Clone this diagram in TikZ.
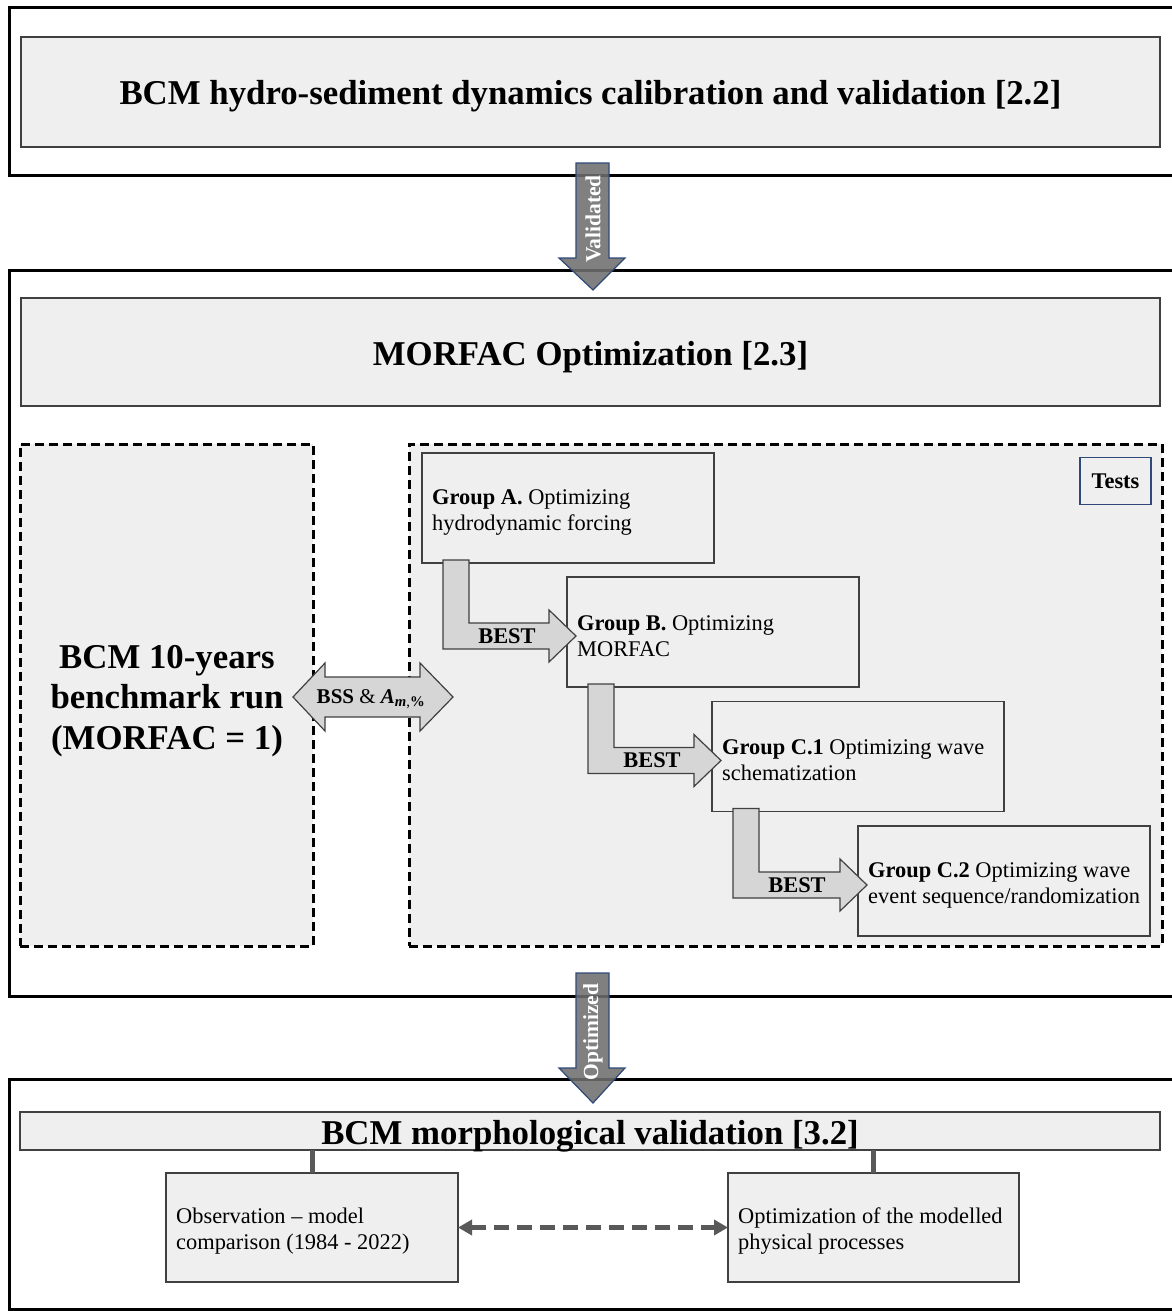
\documentclass[tikz,border=0pt]{standalone}
\usepackage{fontspec}
\setmainfont{Liberation Serif}
\usetikzlibrary{calc,arrows.meta}
\definecolor{boxfill}{HTML}{EFEFEF}
\definecolor{gline}{HTML}{404040}
\definecolor{navyc}{HTML}{2F4A78}
\definecolor{arrowgray}{HTML}{6E6E6E}
\definecolor{bestfill}{HTML}{D6D6D6}
\definecolor{connc}{HTML}{595959}
\newcommand\myhead{\fontsize{34.8}{40.5}\selectfont\bfseries}
\newcommand\mysmall{\fontsize{22.4}{26}\selectfont}
\newcommand\bestarr[3]{%
  \draw[bestarrow] let \p1=(#1.south west), \p2=(#2.west) in
    (\x1+21pt,\y1+3pt) -- (\x1+47pt,\y1+3pt) -- (\x1+47pt,\y2+9pt) -- (\x2-18pt,\y2+9pt)
    -- (\x2-18pt,\y2+22pt) -- (\x2+9pt,\y2-4pt) -- (\x2-18pt,\y2-30pt) -- (\x2-18pt,\y2-17pt)
    -- (\x1+21pt,\y2-17pt) -- cycle;
  \path let \p1=(#1.south west), \p2=(#2.west) in
    node[bestlabel] (#3) at (\x1+85pt,\y2-4pt) {BEST};
}
\tikzset{
  outerbox/.style={draw=black, line width=3pt, outer sep=0pt, inner sep=0pt},
  bar/.style={draw=gline, fill=boxfill, line width=1.2pt, outer sep=0pt, inner sep=0pt, text height=26pt, text depth=0pt},
  dbox/.style={draw=black, line width=3pt, dash pattern=on 9pt off 5pt, fill=boxfill, outer sep=0pt, inner sep=0pt},
  gbox/.style={draw=gline, fill=boxfill, line width=1.2pt, outer sep=0pt, inner sep=0pt, minimum width=292pt, minimum height=110pt},
  gtext/.style={anchor=west, align=left, inner sep=0pt, font=\mysmall},
  bestlabel/.style={font=\mysmall\bfseries, inner sep=0pt},
  bigarrow/.style={draw=navyc, fill=arrowgray, fill opacity=0.88, line width=1.2pt},
  arrowlabel/.style={rotate=90, text=white, font=\fontsize{21.5}{24}\selectfont\bfseries, inner sep=0pt},
  bestarrow/.style={draw=gline, fill=bestfill, line width=1.2pt, line join=miter},
  conn/.style={draw=connc, line width=5pt},
  dasharrow/.style={draw=connc, line width=5pt, dash pattern=on 15pt off 8pt, {Triangle[length=14pt,width=15pt]}-{Triangle[length=14pt,width=15pt]}}
}
\begin{document}
\begin{tikzpicture}[x=1pt,y=-1pt]
\useasboundingbox (0,0) rectangle (1171,1311);
% outer frames
\node[outerbox, minimum width=1165pt, minimum height=167pt] (box1) at (591.5,91.5) {};
\node[outerbox, minimum width=1165pt, minimum height=726pt] (box2) at (591.5,633) {};
\node[outerbox, minimum width=1165pt, minimum height=230pt] (box3) at (591.5,1194) {};
% header bars
\node[bar, minimum width=1139pt, minimum height=110pt] (bar1) at (590.5,92) {\myhead BCM hydro-sediment dynamics calibration and validation [2.2]};
\node[bar, minimum width=1139pt, minimum height=108pt] (bar2) at (590.5,352) {\myhead MORFAC Optimization [2.3]};
\node[bar, minimum width=1140pt, minimum height=38pt] (bar3) at (590,1131) {\myhead BCM morphological validation [3.2]};
% dashed boxes
\node[dbox, minimum width=293pt, minimum height=502pt] (bench) at (166.5,695) {};
\node[align=center, font=\myhead, inner sep=0pt] (benchtext) at (167,701) {BCM 10-years\\benchmark run\\(MORFAC = 1)};
\node[dbox, minimum width=753pt, minimum height=502pt] (tests) at (785.5,695) {};
\node[draw=navyc, line width=1.2pt, fill=boxfill, minimum width=71pt, minimum height=47pt, inner sep=0pt, font=\mysmall\bfseries] (testlab) at (1115.5,481) {Tests};
% groups
\node[gbox] (gA) at (568,508) {};
\node[gbox] (gB) at (713,632) {};
\node[gbox] (gC1) at (858,756.5) {};
\node[gbox] (gC2) at (1004,881) {};
\node[gtext] (tA) at ($(gA.west)+(10,4)$) {\textbf{Group A.} Optimizing\\hydrodynamic forcing};
\node[gtext] (tB) at ($(gB.west)+(10,4)$) {\textbf{Group B.} Optimizing\\MORFAC};
\node[gtext] (tC1) at ($(gC1.west)+(10,4)$) {\textbf{Group C.1} Optimizing wave\\schematization};
\node[gtext] (tC2) at ($(gC2.west)+(10,4)$) {\textbf{Group C.2} Optimizing wave\\event sequence/randomization};
% BEST arrows
\bestarr{gA}{gB}{bestone}
\bestarr{gB}{gC1}{besttwo}
\bestarr{gC1}{gC2}{bestthree}
% BSS double arrow
\draw[bestarrow] let \p1=(bench.east), \p2=(tests.west) in
  (\x1-20pt,\y1-2pt) -- (\x1+12pt,\y1+32pt) -- (\x1+12pt,\y1+18pt) -- (\x2+11pt,\y1+18pt)
  -- (\x2+11pt,\y1+32pt) -- (\x2+44pt,\y1-2pt) -- (\x2+11pt,\y1-36pt) -- (\x2+11pt,\y1-22pt)
  -- (\x1+12pt,\y1-22pt) -- (\x1+12pt,\y1-36pt) -- cycle;
\path let \p1=(bench.east) in
  node[font=\fontsize{21}{24}\selectfont, inner sep=0pt] (bss) at (\x1+58pt,\y1-4pt)
  {\textbf{BSS} \& \textbf{\textit{A}}\textsubscript{\textbf{\textit{m}},\textbf{\%}}};
% Validated arrow
\draw[bigarrow] let \p1=(box1.south), \p2=(box2.north) in
  (\x1-15.5pt,\y1+12pt) -- (\x1+17.5pt,\y1+12pt) -- (\x1+17.5pt,\y2+12pt) -- (\x1+33.5pt,\y2+12pt)
  -- (\x1+1.5pt,\y2-20pt) -- (\x1-32.5pt,\y2+12pt) -- (\x1-15.5pt,\y2+12pt) -- cycle;
\path let \p1=(box1.south) in node[arrowlabel] (vlab) at (\x1+1.5pt,\y1-44pt) {Validated};
% Optimized arrow
\draw[bigarrow] let \p1=(box2.south), \p2=(box3.north) in
  (\x1-15.5pt,\y1+23pt) -- (\x1+17.5pt,\y1+23pt) -- (\x1+17.5pt,\y2+11pt) -- (\x1+33.5pt,\y2+11pt)
  -- (\x1+1.5pt,\y2-24pt) -- (\x1-32.5pt,\y2+11pt) -- (\x1-15.5pt,\y2+11pt) -- cycle;
\path let \p1=(box2.south) in node[arrowlabel] (olab) at (\x1+1.5pt,\y1-36pt) {Optimized};
% bottom boxes
\node[gbox, minimum height=109pt] (obs) at (312,1227.5) {};
\node[gbox, minimum width=291pt, minimum height=109pt] (opt) at (873.5,1227.5) {};
\node[gtext] (tobs) at ($(obs.west)+(10,4)$) {Observation -- model\\comparison (1984 - 2022)};
\node[gtext] (topt) at ($(opt.west)+(10,4)$) {Optimization of the modelled\\physical processes};
\draw[conn] (obs.north) -- (obs.north |- bar3.south);
\draw[conn] (opt.north) -- (opt.north |- bar3.south);
\draw[dasharrow] (obs.east) -- (opt.west);
\end{tikzpicture}
\end{document}
